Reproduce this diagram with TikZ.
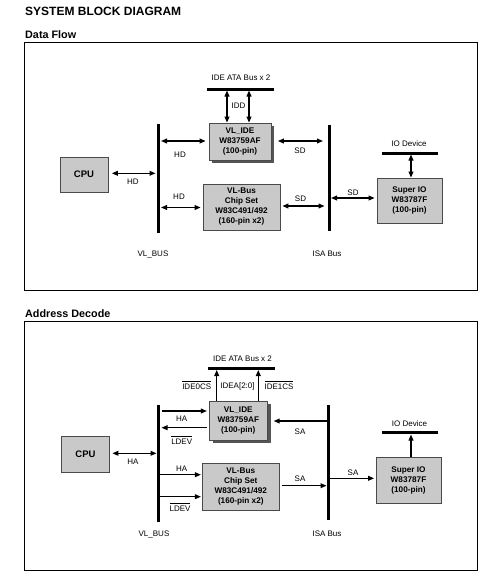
\documentclass[tikz,border=0pt]{standalone}
\usepackage{fontspec}
\setmainfont{Liberation Sans}
\usetikzlibrary{arrows.meta,shadows}
\definecolor{boxgray}{HTML}{C9C9C9}
\definecolor{shadowgray}{HTML}{555555}
\definecolor{boxedge}{HTML}{4A4A4A}
\newcommand\myovl[1]{\leavevmode\vbox{\hrule height 0.5pt\kern 2pt\hbox{#1}}}
\begin{document}
\begin{tikzpicture}[x=1pt,y=-1pt,
  blk/.style={draw=boxedge, fill=boxgray, line width=0.8pt, align=center, inner sep=0pt,
    font=\bfseries\fontsize{8.2}{10}\selectfont},
  shd/.style={drop shadow={shadow xshift=3.2pt, shadow yshift=-3.2pt, fill=shadowgray, opacity=1}},
  lbl/.style={font=\fontsize{8}{9.5}\selectfont, inner sep=0pt, text height=5.73pt, text depth=0pt},
  hdr/.style={anchor=base west, inner sep=0pt},
  bus/.style={line width=3pt},
  arr/.style={line width=1.2pt, -{Triangle[length=6pt,width=4.8pt]}},
  dbl/.style={line width=1.2pt, {Triangle[length=6pt,width=4.8pt]}-{Triangle[length=6pt,width=4.8pt]}},
  frm/.style={line width=0.8pt}]
\useasboundingbox (0,0) rectangle (496,584);

% headings
\node[hdr, font=\bfseries\fontsize{12}{14}\selectfont] (title) at (25,15) {SYSTEM BLOCK DIAGRAM};
\node[hdr, font=\bfseries\fontsize{10.8}{13}\selectfont] (h1) at (25,38.3) {Data Flow};
\node[hdr, font=\bfseries\fontsize{10.8}{13}\selectfont] (h2) at (25,317.7) {Address Decode};

% frames
\draw[frm] (24,42.5) rectangle (477,290);
\draw[frm] (24,321.7) rectangle (477,570);

%================ DATA FLOW =================
\node[blk, minimum width=48pt, minimum height=35pt, font=\bfseries\fontsize{9.5}{11}\selectfont] (cpu1) at (84,174.5) {CPU};
\node[blk, shd, minimum width=62pt, minimum height=37pt] (ide1) at (240,141.5) {VL\_IDE\\W83759AF\\(100-pin)};
\node[blk, minimum width=77pt, minimum height=46pt] (cs1) at (241.5,207) {VL-Bus\\Chip Set\\W83C491/492\\(160-pin x2)};
\node[blk, minimum width=65pt, minimum height=45pt] (sio1) at (409.5,200.5) {Super IO\\W83787F\\(100-pin)};

% buses
\coordinate (vl1top) at (158,124); \coordinate (vl1bot) at (158,233);
\coordinate (isa1top) at (329,125); \coordinate (isa1bot) at (329,231);
\coordinate (ata1l) at (207,89); \coordinate (ata1r) at (274,89);
\coordinate (iod1l) at (382,153); \coordinate (iod1r) at (438,153);
\draw[bus] (vl1top) -- (vl1bot);
\draw[bus] (isa1top) -- (isa1bot);
\draw[bus] (ata1l) -- (ata1r);
\draw[bus] (iod1l) -- (iod1r);

% connectors
\coordinate (t1) at (227,90.5); \coordinate (t2) at (249,90.5);
\draw[dbl] (t1) -- (t1 |- ide1.north);
\draw[dbl] (t2) -- (t2 |- ide1.north);
\coordinate (vl1a) at (161,141);
\draw[dbl, shorten >=3pt] (vl1a) -- (vl1a -| ide1.west);
\coordinate (isa1a) at (323,141);
\draw[dbl, shorten >=6.5pt] (isa1a) -- (isa1a -| ide1.east);
\coordinate (vl1c) at (155.5,173.3);
\draw[dbl, shorten >=3.5pt] (vl1c) -- (vl1c -| cpu1.east);
\coordinate (vl1d) at (161,207.5);
\draw[dbl, shorten >=2pt] (vl1d) -- (vl1d -| cs1.west);
\coordinate (isa1b) at (324.5,206);
\draw[dbl, shorten >=2pt] (isa1b) -- (isa1b -| cs1.east);
\coordinate (isa1c) at (331,198);
\draw[dbl, shorten >=2pt] (isa1c) -- (isa1c -| sio1.west);
\coordinate (io1) at (411,154.5);
\draw[dbl] (io1) -- (io1 |- sio1.north);

% labels
\node[lbl] (l1) at (241,78) {IDE ATA Bus x 2};
\node[lbl] (l2) at (238.5,106) {IDD};
\node[lbl] (l3) at (180,155) {HD};
\node[lbl] (l4) at (300,151) {SD};
\node[lbl] (l5) at (133,182) {HD};
\node[lbl] (l6) at (179,197) {HD};
\node[lbl] (l7) at (300.5,199) {SD};
\node[lbl] (l8) at (353,193) {SD};
\node[lbl] (l9) at (409,144) {IO Device};
\node[lbl] (l10) at (153,254) {VL\_BUS};
\node[lbl] (l11) at (327,254) {ISA Bus};

%================ ADDRESS DECODE =================
\node[blk, minimum width=48pt, minimum height=36pt, font=\bfseries\fontsize{9.5}{11}\selectfont] (cpu2) at (85.5,454) {CPU};
\node[blk, shd, minimum width=58pt, minimum height=39pt] (ide2) at (238.3,420.5) {VL\_IDE\\W83759AF\\(100-pin)};
\node[blk, minimum width=77pt, minimum height=46.7pt] (cs2) at (240.8,486.7) {VL-Bus\\Chip Set\\W83C491/492\\(160-pin x2)};
\node[blk, minimum width=65pt, minimum height=46pt] (sio2) at (408.5,480) {Super IO\\W83787F\\(100-pin)};

% buses
\coordinate (vl2top) at (158.3,405); \coordinate (vl2bot) at (158.3,522);
\coordinate (isa2top) at (328.3,405); \coordinate (isa2bot) at (328.3,520);
\coordinate (ata2l) at (208,368.5); \coordinate (ata2r) at (275,368.5);
\coordinate (iod2l) at (381.7,432.7); \coordinate (iod2r) at (438.3,432.7);
\draw[bus] (vl2top) -- (vl2bot);
\draw[bus] (isa2top) -- (isa2bot);
\draw[bus] (ata2l) -- (ata2r);
\draw[bus] (iod2l) -- (iod2r);

% connectors
\coordinate (u1) at (216.7,370); \coordinate (u2) at (258.3,370);
\draw[arr] (u1 |- ide2.north) -- (u1);
\draw[arr] (u2 |- ide2.north) -- (u2);
\coordinate (vl2a) at (162,411);
\draw[arr, shorten >=2pt] (vl2a) -- (vl2a -| ide2.west);
\coordinate (vl2b) at (161.5,427.7);
\draw[arr, shorten <=2pt] (vl2b -| ide2.west) -- (vl2b);
\coordinate (isa2a) at (326.7,421);
\draw[arr, shorten >=6pt] (isa2a) -- (isa2a -| ide2.east);
\coordinate (vl2c) at (156.5,453.3);
\draw[dbl, shorten >=2.5pt] (vl2c) -- (vl2c -| cpu2.east);
\coordinate (vl2d) at (160,474.7);
\draw[arr, shorten >=1pt] (vl2d) -- (vl2d -| cs2.west);
\coordinate (vl2e) at (160,496.7);
\draw[arr, shorten >=1pt] (vl2e) -- (vl2e -| cs2.west);
\coordinate (isa2b) at (326.5,485.7);
\draw[arr, shorten <=2pt] (isa2b -| cs2.east) -- (isa2b);
\coordinate (isa2c) at (330,478.3);
\draw[arr, shorten >=1.5pt] (isa2c) -- (isa2c -| sio2.west);
\coordinate (io2) at (411,434.5);
\draw[arr] (io2 |- sio2.north) -- (io2);

% labels
\node[lbl] (m1) at (242.5,358.5) {IDE ATA Bus x 2};
\node[lbl] (m2) at (196.7,386.5) {\myovl{IDE0CS}};
\node[lbl] (m3) at (237.5,385.5) {IDEA[2:0]};
\node[lbl] (m4) at (279,386.5) {\myovl{IDE1CS}};
\node[lbl] (m5) at (181.7,418.3) {HA};
\node[lbl] (m6) at (181.7,441.5) {\myovl{LDEV}};
\node[lbl] (m7) at (300,431.5) {SA};
\node[lbl] (m8) at (133,462) {HA};
\node[lbl] (m9) at (181.7,468.3) {HA};
\node[lbl] (m10) at (180,508.3) {\myovl{LDEV}};
\node[lbl] (m11) at (300,479) {SA};
\node[lbl] (m12) at (353,473) {SA};
\node[lbl] (m13) at (409.5,424) {IO Device};
\node[lbl] (m14) at (154,534) {VL\_BUS};
\node[lbl] (m15) at (327,534) {ISA Bus};
\end{tikzpicture}
\end{document}
